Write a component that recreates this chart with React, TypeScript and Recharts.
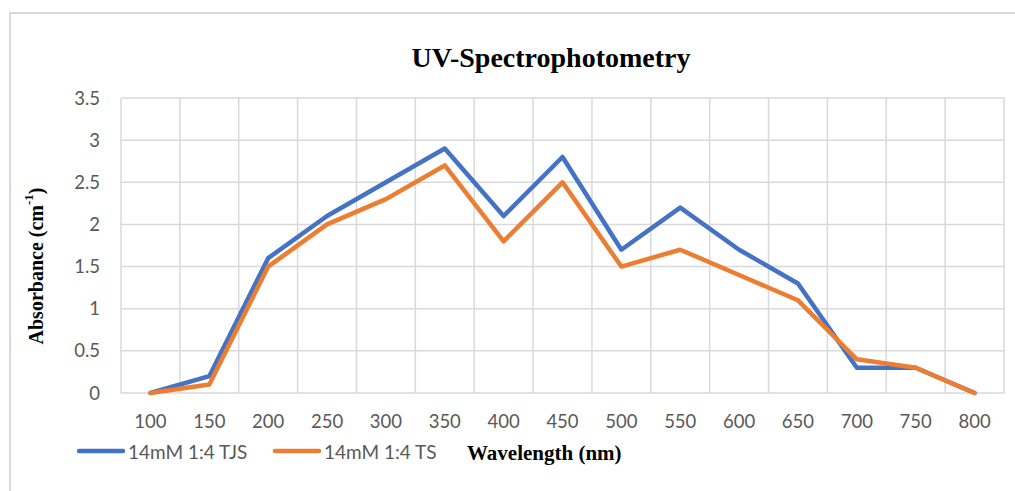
import React from 'react';
import { LineChart, Line, XAxis, YAxis, CartesianGrid } from 'recharts';

const wavelengths = [100, 150, 200, 250, 300, 350, 400, 450, 500, 550, 600, 650, 700, 750, 800];
const tjsValues = [0, 0.2, 1.6, 2.1, 2.5, 2.9, 2.1, 2.8, 1.7, 2.2, 1.7, 1.3, 0.3, 0.3, 0];
const tsValues = [0, 0.1, 1.5, 2.0, 2.3, 2.7, 1.8, 2.5, 1.5, 1.7, 1.4, 1.1, 0.4, 0.3, 0];
const yTicks = [0, 0.5, 1, 1.5, 2, 2.5, 3, 3.5];
const gridBoundaries = [75, 125, 175, 225, 275, 325, 375, 425, 475, 525, 575, 625, 675, 725, 775, 825];
const seriesNames = ['14mM 1:4 TJS', '14mM 1:4 TS'];
const seriesColors = ['#4472C4', '#ED7D31'];

const data = wavelengths.map((wl, i) => ({ wl, tjs: tjsValues[i], ts: tsValues[i] }));

const GRID = '#d9d9d9';
const TEXT = '#595959';
const SANS = 'Lato, "Noto Sans", sans-serif';
const SERIF = '"Liberation Serif", "Times New Roman", serif';

const YLabel = () => (
  <text
    x={36}
    y={266}
    transform="rotate(-90, 36, 266)"
    textAnchor="middle"
    dominantBaseline="central"
    fontFamily={SERIF}
    fontWeight="bold"
    fontSize={20}
    fill="#000"
  >
    Absorbance (cm
    <tspan fontSize={13} dy={-8}>-1</tspan>
    <tspan dy={8}>)</tspan>
  </text>
);

const XLabel = () => (
  <text
    x={467}
    y={460}
    textAnchor="start"
    fontFamily={SERIF}
    fontWeight="bold"
    fontSize={21}
    fill="#000"
  >
    Wavelength (nm)
  </text>
);

export default function App() {
  return (
    <div style={{ position: 'absolute', left: 0, top: 0, width: 1015, height: 491, overflow: 'hidden', background: '#fff' }}>
      <div
        style={{
          position: 'absolute',
          left: 9,
          top: 12,
          width: 1200,
          height: 700,
          border: `2px solid ${GRID}`,
          boxSizing: 'border-box',
        }}
      />
      <div style={{ position: 'absolute', left: 0, top: 0 }}>
        <LineChart
          width={1015}
          height={491}
          data={data}
          margin={{ top: 98, right: 11, bottom: 68, left: 0 }}
        >
          <CartesianGrid
            stroke={GRID}
            strokeWidth={1.5}
            verticalValues={gridBoundaries}
            horizontalValues={yTicks}
          />
          <XAxis
            dataKey="wl"
            type="number"
            domain={[75, 825]}
            ticks={wavelengths}
            interval={0}
            axisLine={false}
            tickLine={false}
            tickSize={0}
            tickMargin={22}
            height={30}
            tick={{ fill: TEXT, fontSize: 18.5, fontFamily: SANS }}
            label={<XLabel />}
          />
          <YAxis
            domain={[0, 3.5]}
            ticks={yTicks}
            interval={0}
            axisLine={false}
            tickLine={false}
            tickSize={0}
            tickMargin={21}
            width={121}
            tick={{ fill: TEXT, fontSize: 18.5, fontFamily: SANS }}
            label={<YLabel />}
          />
          <Line
            dataKey="tjs"
            name={seriesNames[0]}
            stroke={seriesColors[0]}
            strokeWidth={4.5}
            strokeLinejoin="round"
            strokeLinecap="round"
            dot={false}
            activeDot={false}
            isAnimationActive={false}
          />
          <Line
            dataKey="ts"
            name={seriesNames[1]}
            stroke={seriesColors[1]}
            strokeWidth={4.5}
            strokeLinejoin="round"
            strokeLinecap="round"
            dot={false}
            activeDot={false}
            isAnimationActive={false}
          />
        </LineChart>
      </div>
      <svg
        width={1015}
        height={491}
        style={{ position: 'absolute', left: 0, top: 0, pointerEvents: 'none' }}
      >
        <text
          x={551}
          y={67}
          textAnchor="middle"
          fontFamily={SERIF}
          fontWeight="bold"
          fontSize={28}
          fill="#000"
        >
          UV-Spectrophotometry
        </text>
        {seriesNames.map((name, i) => {
          const left = i === 0 ? 77 : 273;
          return (
            <g key={name}>
              <line
                x1={left + 2}
                x2={left + 46}
                y1={451}
                y2={451}
                stroke={seriesColors[i]}
                strokeWidth={4.5}
                strokeLinecap="round"
              />
              <text
                x={left + 51}
                y={451}
                dominantBaseline="central"
                fontFamily={SANS}
                fontSize={19}
                fill={TEXT}
              >
                {name}
              </text>
            </g>
          );
        })}
      </svg>
    </div>
  );
}
